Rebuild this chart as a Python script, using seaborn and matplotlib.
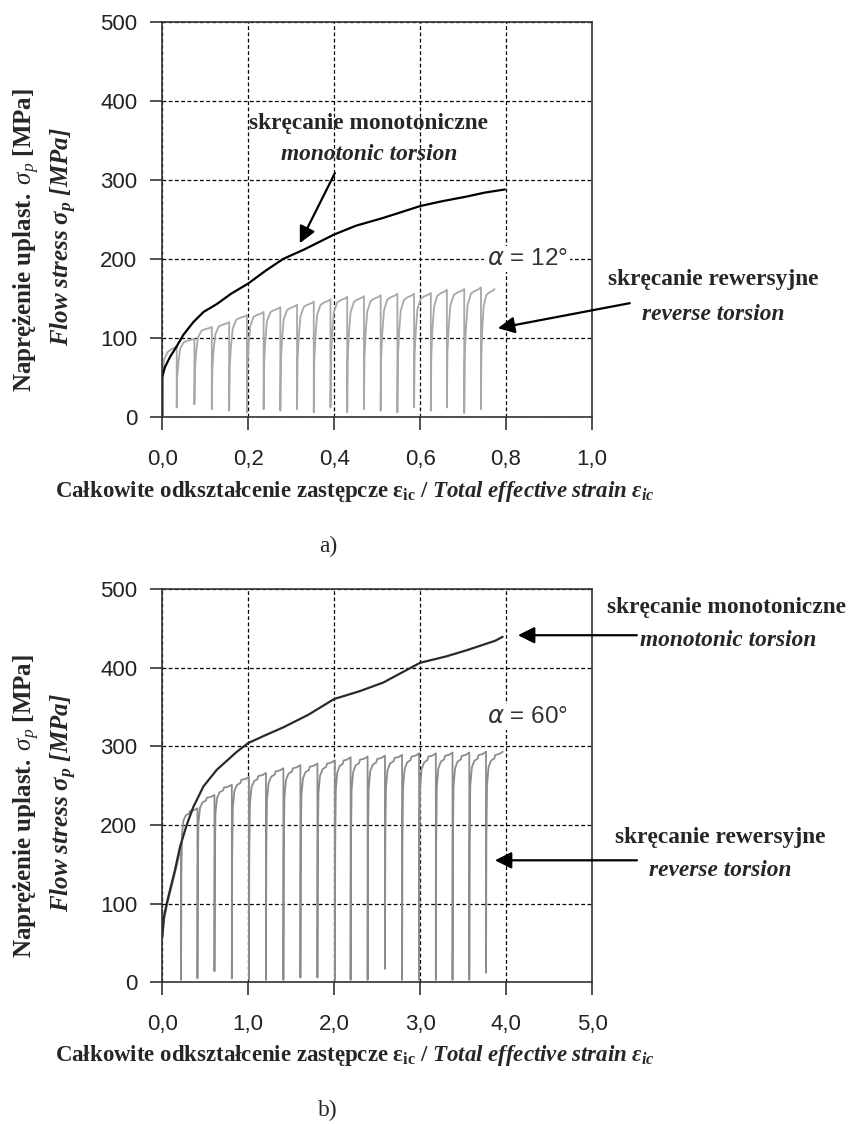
import numpy as np
import pandas as pd
import matplotlib
matplotlib.use("Agg")
import matplotlib.pyplot as plt
import seaborn as sns

# ---------------- data ----------------
# (a) alpha = 12 deg
top_mono_strain = [0.0, 0.0, 0.006, 0.018, 0.033, 0.049, 0.072, 0.096, 0.127, 0.16, 0.2, 0.24,
                   0.281, 0.33, 0.4, 0.45, 0.514, 0.56, 0.6, 0.65, 0.708, 0.75, 0.797]
top_mono_stress = [0, 51, 63, 76, 89, 104, 120, 133, 143, 156, 169, 185,
                   200, 212, 231, 242, 252, 260, 267, 273, 279, 284, 288]
top_rev_first_strain = [0.0, 0.0, 0.004, 0.012, 0.022, 0.0335]
top_rev_first_stress = [0, 48, 72, 82, 86, 89]
top_rev_dips = [0.0335, 0.0747, 0.1152, 0.1556, 0.1969, 0.2358, 0.2747, 0.3136, 0.3525, 0.3914,
                0.4303, 0.4693, 0.5082, 0.5471, 0.5860, 0.6249, 0.6623, 0.7027, 0.7416]
top_rev_end = 0.773
top_rev_peaks = [99, 114, 120, 129, 133, 139, 142, 146, 149, 152, 153, 154, 156, 156, 157, 161, 162, 164, 162]
top_rev_mins = [12, 16, 10, 8, 6, 10, 8, 10, 6, 12, 6, 10, 8, 6, 12, 8, 12, 5, 10]
top_shape_dx = [0, 0.03, 0.1, 0.2, 0.4, 0.6, 0.85, 1.0]
top_shape_dy = [0, 0.45, 0.67, 0.86, 0.95, 0.97, 0.985, 1.0]
top_xticks = [0.0, 0.2, 0.4, 0.6, 0.8, 1.0]
top_xticklabels = ["0,0", "0,2", "0,4", "0,6", "0,8", "1,0"]

# (b) alpha = 60 deg
bot_mono_strain = [0.0, 0.019, 0.051, 0.089, 0.148, 0.206, 0.284, 0.362, 0.479, 0.634, 0.868,
                   1.0, 1.2, 1.409, 1.7, 2.0, 2.3, 2.573, 3.0, 3.3, 3.544, 3.874, 3.96]
bot_mono_stress = [58, 83, 100, 117, 143, 172, 200, 223, 249, 270, 293,
                   304, 314, 324, 340, 360, 370, 381, 406, 414, 422, 434, 439]
bot_rev_first_strain = [0.0, 0.02, 0.05, 0.09, 0.15, 0.218]
bot_rev_first_stress = [55, 80, 96, 114, 140, 172]
bot_rev_dips = [0.218, 0.409, 0.607, 0.809, 1.008, 1.206, 1.409, 1.607, 1.805, 2.008,
                2.191, 2.389, 2.591, 2.790, 2.988, 3.183, 3.377, 3.572, 3.767]
bot_rev_end = 3.961
bot_rev_peaks = [221, 238, 251, 261, 266, 272, 276, 278, 282, 286, 287, 288, 289, 291, 291, 292, 292, 293, 293]
bot_rev_mins = [3, 5, 14, 5, 4, 3, 3, 6, 6, 3, 3, 3, 17, 3, 3, 3, 3, 3, 12]
bot_shape_dx = [0, 0.02, 0.06, 0.15, 0.3, 0.5, 0.55, 0.8, 1.0]
bot_shape_dy = [0, 0.6, 0.85, 0.93, 0.96, 0.97, 0.985, 0.99, 1.0]
bot_xticks = [0.0, 1.0, 2.0, 3.0, 4.0, 5.0]
bot_xticklabels = ["0,0", "1,0", "2,0", "3,0", "4,0", "5,0"]

yticks = [0, 100, 200, 300, 400, 500]
yticklabels = ["0", "100", "200", "300", "400", "500"]


def build_reverse(first_x, first_y, dips, end, peaks, mins, sdx, sdy):
    xs = list(first_x)
    ys = list(first_y)
    bounds = list(dips) + [end]
    for i, d in enumerate(dips):
        L = bounds[i + 1] - d
        lo, hi = mins[i], peaks[i]
        for fx_, fy_ in zip(sdx, sdy):
            xs.append(d + fx_ * L)
            ys.append(lo + fy_ * (hi - lo))
    return pd.DataFrame({"strain": xs, "stress": ys})


top_rev = build_reverse(top_rev_first_strain, top_rev_first_stress, top_rev_dips, top_rev_end,
                        top_rev_peaks, top_rev_mins, top_shape_dx, top_shape_dy)
bot_rev = build_reverse(bot_rev_first_strain, bot_rev_first_stress, bot_rev_dips, bot_rev_end,
                        bot_rev_peaks, bot_rev_mins, bot_shape_dx, bot_shape_dy)
top_mono = pd.DataFrame({"strain": top_mono_strain, "stress": top_mono_stress})
bot_mono = pd.DataFrame({"strain": bot_mono_strain, "stress": bot_mono_stress})

# ---------------- style ----------------
sns.set_style("white")
plt.rcParams["font.family"] = ["Liberation Sans", "DejaVu Sans"]
plt.rcParams["mathtext.fontset"] = "custom"
plt.rcParams["mathtext.rm"] = "Liberation Serif"
plt.rcParams["mathtext.it"] = "Liberation Serif:italic"
plt.rcParams["mathtext.bf"] = "Liberation Serif:bold"
plt.rcParams["mathtext.bfit"] = "Liberation Serif:italic:bold"

W, H = 853, 1124
fig = plt.figure(figsize=(W / 100, H / 100), dpi=100)


def fx(px):
    return px / W


def fy(py):
    return 1 - py / H


ax1 = fig.add_axes([fx(162.3), fy(417), fx(592) - fx(162.3), fy(22) - fy(417)])
ax2 = fig.add_axes([fx(162.3), fy(982.3), fx(592) - fx(162.3), fy(588.8) - fy(982.3)])

serif = ["Liberation Serif", "DejaVu Serif"]
FS_T = 16.8


def style_axes(ax, xticks, xlabels, xmax):
    ax.set_xlim(0, xmax)
    ax.set_ylim(0, 500)
    ax.set_xticks(xticks)
    ax.set_xticklabels(xlabels)
    ax.set_yticks(yticks)
    ax.set_yticklabels(yticklabels)
    ax.grid(True, color="black", linestyle=(0, (3, 2)), linewidth=0.9)
    for s in ax.spines.values():
        s.set_visible(True)
        s.set_color("#333333")
        s.set_linewidth(1.2)
    ax.tick_params(axis="both", direction="out", length=9, width=1.2, color="#333333",
                   labelsize=16, labelcolor="#222222", bottom=True, left=True)
    ax.tick_params(axis="x", pad=14)
    ax.tick_params(axis="y", pad=9)
    ax.set_xlabel("")
    ax.set_ylabel("")


# top panel
sns.lineplot(data=top_rev, x="strain", y="stress", sort=False, estimator=None, ax=ax1,
             color="#a8a8a8", lw=1.3)
sns.lineplot(data=top_mono, x="strain", y="stress", sort=False, estimator=None, ax=ax1,
             color="black", lw=1.6)
style_axes(ax1, top_xticks, top_xticklabels, 1.0)

# bottom panel
sns.lineplot(data=bot_rev, x="strain", y="stress", sort=False, estimator=None, ax=ax2,
             color="#8c8c8c", lw=1.3)
sns.lineplot(data=bot_mono, x="strain", y="stress", sort=False, estimator=None, ax=ax2,
             color="#2a2a2a", lw=1.6)
style_axes(ax2, bot_xticks, bot_xticklabels, 5.0)

# alpha labels
box = dict(facecolor="white", edgecolor="none", pad=1.5)
ax1.text(0.943, 200, r"$\alpha$ = 12°", ha="right", va="center", fontsize=17.5, color="#333333",
         math_fontfamily="dejavusans", bbox=box)
ax2.text(4.72, 337, r"$\alpha$ = 60°", ha="right", va="center", fontsize=17.5, color="#333333",
         math_fontfamily="dejavusans", bbox=box)

arrow = dict(arrowstyle="-|>,head_length=0.5,head_width=0.25", color="black", lw=1.6,
             mutation_scale=20, shrinkA=0, shrinkB=0)

# top annotations
ax1.annotate("", xy=(0.320, 220), xytext=(0.4016, 308.7), arrowprops=arrow, annotation_clip=False)
ax1.annotate("", xy=(0.781, 112.4), xytext=(1.088, 144.1), arrowprops=arrow, annotation_clip=False)
fig.text(fx(369), fy(123), "skręcanie monotoniczne", ha="center", va="center",
         family=serif, weight="bold", fontsize=FS_T)
fig.text(fx(369), fy(155), "monotonic torsion", ha="center", va="center",
         family=serif, weight="bold", style="italic", fontsize=FS_T)
fig.text(fx(713), fy(280), "skręcanie rewersyjne", ha="center", va="center",
         family=serif, weight="bold", fontsize=FS_T)
fig.text(fx(713), fy(315), "reverse torsion", ha="center", va="center",
         family=serif, weight="bold", style="italic", fontsize=FS_T)

# bottom annotations
ax2.annotate("", xy=(4.138, 441), xytext=(5.522, 441), arrowprops=arrow, annotation_clip=False)
ax2.annotate("", xy=(3.870, 155), xytext=(5.523, 155), arrowprops=arrow, annotation_clip=False)
fig.text(fx(727), fy(608), "skręcanie monotoniczne", ha="center", va="center",
         family=serif, weight="bold", fontsize=FS_T)
fig.text(fx(728), fy(641), "monotonic torsion", ha="center", va="center",
         family=serif, weight="bold", style="italic", fontsize=FS_T)
fig.text(fx(720), fy(838), "skręcanie rewersyjne", ha="center", va="center",
         family=serif, weight="bold", fontsize=FS_T)
fig.text(fx(720), fy(870), "reverse torsion", ha="center", va="center",
         family=serif, weight="bold", style="italic", fontsize=FS_T)

# axis labels
ylab1 = r"$\mathbf{Naprężenie\ uplast.\ }\mathit{σ_{p}}\ \mathbf{[MPa]}$"
ylab2 = r"$\mathbfit{Flow\ stress\ σ_{p}\ [MPa]}$"
xlab = r"$\mathbf{Całkowite\ odkształcenie\ zastępcze\ ε_{ic}\ /\ }\mathbfit{Total\ effective\ strain\ ε_{ic}}$"
FS_Y = 18
FS_X = 16.5
for yc in (240, 806):
    fig.text(fx(27), fy(yc), ylab1, rotation=90, ha="center", va="center", fontsize=FS_Y)
    fig.text(fx(64), fy(yc - 3), ylab2, rotation=90, ha="center", va="center", fontsize=FS_Y)
for yc in (491, 1056):
    fig.text(fx(355), fy(yc), xlab, ha="center", va="center", fontsize=FS_X)
fig.text(fx(328), fy(546), "a)", ha="center", va="center", family=serif, fontsize=FS_T)
fig.text(fx(328), fy(1110), "b)", ha="center", va="center", family=serif, fontsize=FS_T)

fig.savefig("out.png", dpi=100)
